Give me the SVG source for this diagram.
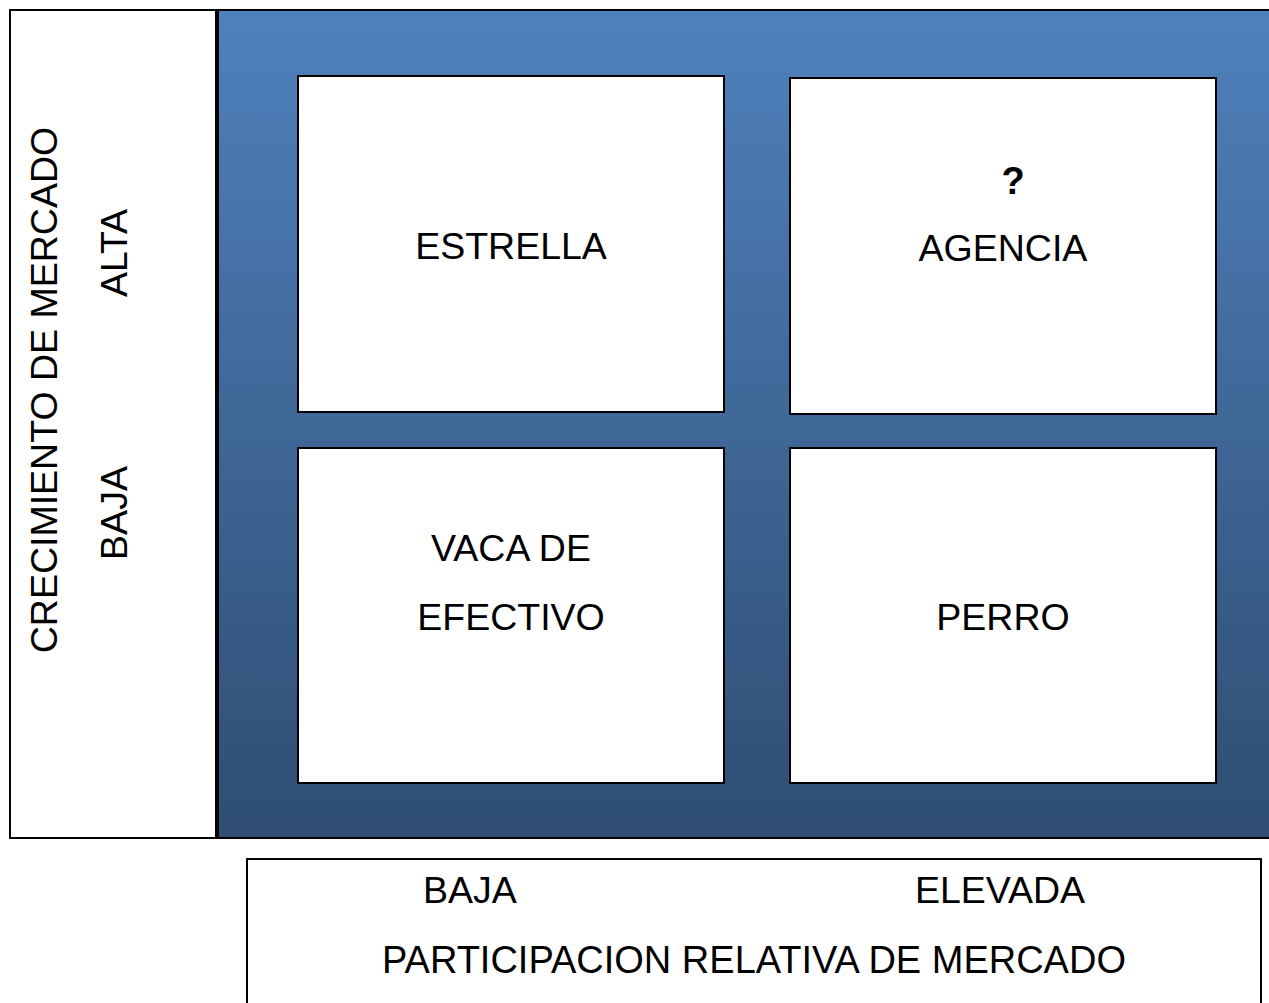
<svg xmlns="http://www.w3.org/2000/svg" width="1269" height="1003" viewBox="0 0 1269 1003">
<defs>
<linearGradient id="bg" x1="0" y1="0" x2="0" y2="1">
<stop offset="0" stop-color="#4f81bd"/>
<stop offset="1" stop-color="#2f4d72"/>
</linearGradient>
<style>
.t{font-family:"Liberation Sans",Arial,sans-serif;font-size:37.5px;fill:#000;text-anchor:middle}
.box{fill:#fff;stroke:#000;stroke-width:2}
</style>
</defs>
<rect x="0" y="0" width="1269" height="1003" fill="#fff"/>
<g id="axis-y">
<rect x="10" y="10" width="207" height="828" class="box"/>
<text class="t" transform="translate(57,390) rotate(-90)">CRECIMIENTO DE MERCADO</text>
<text class="t" transform="translate(127,253) rotate(-90)">ALTA</text>
<text class="t" transform="translate(127,513) rotate(-90)">BAJA</text>
</g>
<g id="matrix">
<rect x="217" y="10" width="1054" height="828" fill="url(#bg)" stroke="#000" stroke-width="2"/>
<line x1="217" y1="10" x2="217" y2="838" stroke="#000" stroke-width="4"/>
</g>
<g id="estrella">
<rect x="298" y="76" width="426" height="336" class="box"/>
<text class="t" x="511" y="259">ESTRELLA</text>
</g>
<g id="agencia">
<rect x="790" y="78" width="426" height="336" class="box"/>
<text class="t" x="1013" y="194" font-weight="bold" style="font-size:38px">?</text>
<text class="t" x="1003" y="261">AGENCIA</text>
</g>
<g id="vaca">
<rect x="298" y="448" width="426" height="335" class="box"/>
<text class="t" x="511" y="561">VACA DE</text>
<text class="t" x="511" y="630">EFECTIVO</text>
</g>
<g id="perro">
<rect x="790" y="448" width="426" height="335" class="box"/>
<text class="t" x="1003" y="630">PERRO</text>
</g>
<g id="axis-x">
<rect x="247" y="859" width="1014" height="160" class="box"/>
<text class="t" x="470" y="903">BAJA</text>
<text class="t" x="1000" y="903">ELEVADA</text>
<text class="t" x="754" y="973" style="font-size:38px">PARTICIPACION RELATIVA DE MERCADO</text>
</g>
<g id="connectors"/>
</svg>
